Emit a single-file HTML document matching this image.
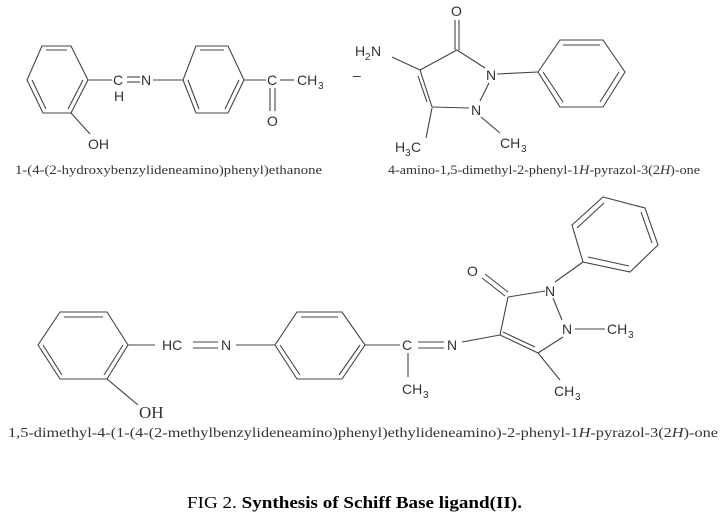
<!DOCTYPE html>
<html><head><meta charset="utf-8"><style>
html,body{margin:0;padding:0;background:#fff;width:727px;height:519px;overflow:hidden}
svg{display:block}
.a{font-family:"Liberation Sans",sans-serif;font-size:14px;fill:#333}
.c{font-family:"Liberation Serif",serif;font-size:13px;fill:#333}
line,polygon{stroke:#444;stroke-width:1.1;fill:none}
</style></head><body>
<svg width="727" height="519" viewBox="0 0 727 519">
<!-- top-left molecule -->
<polygon points="42,46 71,46 88,80 71,113 43,113 27,80"/>
<line x1="46" y1="50" x2="67" y2="50"/><line x1="83" y1="80" x2="68" y2="109"/><line x1="32" y1="80" x2="46" y2="109"/>
<line x1="71" y1="113" x2="90" y2="134"/>
<text class="a" x="88" y="149">OH</text>
<line x1="88" y1="80" x2="112" y2="80"/>
<text class="a" x="113" y="85">C</text>
<text class="a" x="114" y="101">H</text>
<line x1="127" y1="77" x2="140" y2="77"/><line x1="127" y1="82" x2="140" y2="82"/>
<text class="a" x="141" y="85">N</text>
<line x1="153" y1="80" x2="183" y2="80"/>
<polygon points="196,46 228,46 244,80 228,113 196,113 183,80"/>
<line x1="200" y1="50" x2="224" y2="50"/><line x1="239" y1="80" x2="225" y2="109"/><line x1="188" y1="80" x2="199" y2="109"/>
<line x1="244" y1="80" x2="266" y2="80"/>
<text class="a" x="267" y="85">C</text>
<line x1="280" y1="80" x2="294" y2="80"/>
<text class="a" x="297" y="85">CH</text><text class="a" x="318" y="89" style="font-size:10px">3</text>
<line x1="270" y1="88" x2="270" y2="111"/><line x1="275" y1="88" x2="275" y2="111"/>
<text class="a" x="267" y="126">O</text>
<text class="c" x="15" y="174" textLength="307" lengthAdjust="spacingAndGlyphs">1-(4-(2-hydroxybenzylideneamino)phenyl)ethanone</text>
<text class="a" x="353" y="80">–</text>
<!-- top-right molecule -->
<text class="a" x="451" y="16">O</text>
<line x1="455" y1="20" x2="455" y2="50"/><line x1="459" y1="20" x2="459" y2="50"/>
<line x1="457" y1="50" x2="485" y2="68"/>
<line x1="420" y1="70" x2="457" y2="50"/>
<text class="a" x="486" y="80">N</text>
<line x1="497" y1="74" x2="538" y2="72"/>
<line x1="489" y1="83" x2="480" y2="101"/>
<text class="a" x="471" y="115">N</text>
<line x1="469" y1="108" x2="432" y2="107"/>
<line x1="432" y1="107" x2="420" y2="70"/><line x1="427" y1="102" x2="418" y2="76"/>
<line x1="420" y1="70" x2="392" y2="57"/>
<text class="a" x="355" y="56">H</text><text class="a" x="365" y="60" style="font-size:10px">2</text><text class="a" x="371" y="56">N</text>
<line x1="432" y1="108" x2="426" y2="138"/>
<text class="a" x="395" y="152">H</text><text class="a" x="405" y="156" style="font-size:10px">3</text><text class="a" x="411" y="152">C</text>
<line x1="481" y1="117" x2="500" y2="133"/>
<text class="a" x="500" y="148">CH</text><text class="a" x="521" y="152" style="font-size:10px">3</text>
<polygon points="538,72 560,40 603,40 625,72 603,107 560,107"/>
<line x1="563" y1="45" x2="600" y2="45"/><line x1="619" y1="72" x2="600" y2="102"/><line x1="543" y1="72" x2="563" y2="102"/>
<text class="c" x="388" y="174" textLength="312" lengthAdjust="spacingAndGlyphs">4-amino-1,5-dimethyl-2-phenyl-1<tspan font-style="italic">H</tspan>-pyrazol-3(2<tspan font-style="italic">H</tspan>)-one</text>
<!-- bottom molecule -->
<polygon points="60,312 107,312 128,345 107,379 60,379 38,345"/>
<line x1="64" y1="317" x2="103" y2="317"/><line x1="123" y1="345" x2="104" y2="375"/><line x1="43" y1="345" x2="62" y2="375"/>
<line x1="107" y1="379" x2="138" y2="405"/>
<text class="c" x="139" y="418" style="font-size:17px">OH</text>
<line x1="128" y1="345" x2="155" y2="345"/>
<text class="a" x="162" y="350">HC</text>
<line x1="193" y1="342" x2="218" y2="342"/><line x1="193" y1="348" x2="218" y2="348"/>
<text class="a" x="221" y="350">N</text>
<line x1="236" y1="345" x2="275" y2="345"/>
<polygon points="297,312 342,312 365,345 342,379 297,379 275,345"/>
<line x1="301" y1="317" x2="338" y2="317"/><line x1="360" y1="345" x2="339" y2="375"/><line x1="280" y1="345" x2="300" y2="375"/>
<line x1="365" y1="345" x2="400" y2="345"/>
<text class="a" x="402" y="350">C</text>
<line x1="408" y1="353" x2="408" y2="377"/>
<text class="a" x="402" y="394">CH</text><text class="a" x="423" y="398" style="font-size:10px">3</text>
<line x1="418" y1="342" x2="444" y2="342"/><line x1="418" y1="348" x2="444" y2="348"/>
<text class="a" x="447" y="350">N</text>
<line x1="462" y1="342" x2="500" y2="335"/>
<text class="a" x="467" y="276">O</text>
<line x1="482" y1="278" x2="505" y2="296"/><line x1="485" y1="274" x2="508" y2="292"/>
<line x1="508" y1="297" x2="545" y2="291"/>
<text class="a" x="545" y="296">N</text>
<line x1="555" y1="282" x2="583" y2="262"/>
<line x1="553" y1="298" x2="562" y2="320"/>
<text class="a" x="562" y="334">N</text>
<line x1="575" y1="329" x2="605" y2="329"/>
<text class="a" x="607" y="334">CH</text><text class="a" x="628" y="338" style="font-size:10px">3</text>
<line x1="563" y1="337" x2="538" y2="353"/>
<line x1="538" y1="353" x2="500" y2="335"/><line x1="535" y1="347" x2="503" y2="332"/>
<line x1="500" y1="335" x2="508" y2="297"/>
<line x1="538" y1="353" x2="560" y2="380"/>
<text class="a" x="554" y="396">CH</text><text class="a" x="575" y="400" style="font-size:10px">3</text>
<polygon points="583,262 572,225 603,197 645,208 658,245 630,272"/>
<line x1="577" y1="228" x2="604" y2="203"/><line x1="641" y1="212" x2="652" y2="243"/><line x1="629" y1="266" x2="588" y2="257"/>
<text class="c" x="8" y="437" style="font-size:14px" textLength="710" lengthAdjust="spacingAndGlyphs">1,5-dimethyl-4-(1-(4-(2-methylbenzylideneamino)phenyl)ethylideneamino)-2-phenyl-1<tspan font-style="italic">H</tspan>-pyrazol-3(2<tspan font-style="italic">H</tspan>)-one</text>
<text x="187" y="508" textLength="335" lengthAdjust="spacingAndGlyphs" style="font-family:'Liberation Serif',serif;font-size:17px;fill:#000">FIG 2. <tspan font-weight="bold">Synthesis of Schiff Base ligand(II).</tspan></text>
</svg>
</body></html>
